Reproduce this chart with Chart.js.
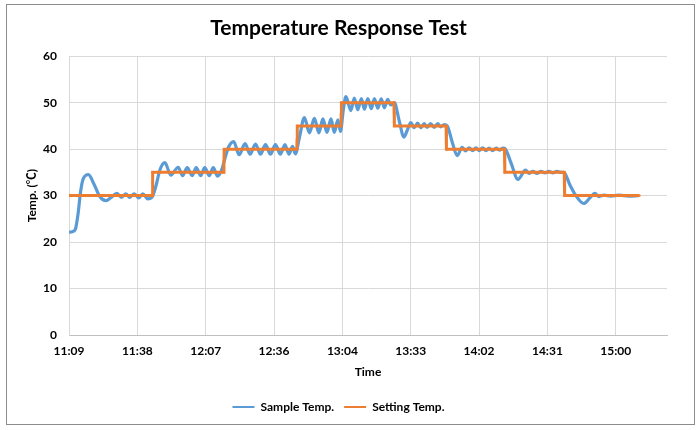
<!DOCTYPE html>
<html>
<head>
<meta charset="utf-8">
<script src="https://cdn.jsdelivr.net/npm/chart.js@4/dist/chart.umd.min.js"></script>
<style>
  html, body { margin: 0; padding: 0; background: #fff; }
  #wrap { width: 700px; height: 430px; }
</style>
</head>
<body>
<div id="wrap"><canvas id="myChart" width="700" height="430"></canvas></div>
<script>
// time in minutes after midnight, temp in degC
let sampleTime = [669.6, 670.9, 672.3, 673.4, 674.4, 675.5, 677.8, 680.1, 682.6, 685.2, 687.3, 689.8, 691.7, 693.6, 695.2, 697.1, 699.0, 700.7, 702.8, 704.5,
    706.2, 707.9, 710.0, 712.5, 715.6, 717.5, 719.4, 721.5, 723.2, 725.1, 726.8, 728.7, 730.4, 732.2, 733.9,
    735.6, 736.9, 739.0, 741.3, 743.8, 745.9, 748.2, 750.3, 752.4, 754.5, 756.6, 758.7, 760.6, 762.3, 763.8, 765.0,
    766.7, 768.8, 770.9, 773.0, 774.9, 776.6, 778.3, 780.0, 781.4, 782.9, 784.0, 785.2,
    786.3, 788.4, 789.8, 791.3, 792.8, 794.1, 795.5, 797.0, 798.3, 799.7, 801.2, 802.5, 803.9, 805.2, 806.7,
    808.8, 810.7, 812.1, 813.6, 815.1, 816.5, 817.8, 819.3, 820.5, 822.0, 823.5, 825.0, 826.2, 827.7,
    829.0, 831.1, 833.2, 835.3, 836.7, 838.2, 839.7, 841.1, 842.4, 843.9, 845.3, 846.6, 848.1, 849.6, 851.0, 852.5, 853.5,
    855.9, 858.8, 862.0, 863.4, 865.1, 866.8, 868.5, 870.2, 871.8, 873.5, 875.2, 876.9, 878.1,
    880.7, 883.2, 886.5, 889.1, 891.2, 892.9, 895.0, 897.9, 901.3, 905.5, 909.7];
let sampleTemp = [22.1, 22.2, 22.8, 26, 30.5, 33.5, 34.5, 32.5, 29.8, 28.9, 29.6, 30.5, 29.6, 30.4, 29.6, 30.4, 29.5, 30.4, 29.3, 29.6,
    32, 35.5, 37.1, 34.4, 36.1, 34.3, 36.0, 34.3, 36.0, 34.3, 36.0, 34.3, 36.0, 34.2, 35.5,
    38.5, 40.5, 41.6, 38.8, 41.2, 38.9, 41.1, 38.9, 41.0, 38.9, 41.0, 38.9, 41.0, 38.9, 40.6, 39.0,
    42.5, 46.8, 43.5, 46.6, 43.5, 46.5, 43.6, 46.5, 43.6, 46.3, 43.8, 48.5,
    51.3, 48.3, 51.0, 48.5, 50.9, 48.6, 50.9, 48.7, 50.9, 48.8, 50.8, 48.9, 50.7, 49.5, 50.0,
    46, 42.6, 44, 45.7, 44.6, 45.6, 44.6, 45.5, 44.7, 45.5, 44.7, 45.5, 44.8, 45.3,
    45, 41.5, 38.6, 40.4, 39.6, 40.3, 39.7, 40.3, 39.7, 40.3, 39.7, 40.2, 39.7, 40.2, 39.8, 40.2, 40.0,
    37, 33.5, 35.5, 34.8, 35.2, 34.8, 35.2, 34.9, 35.2, 34.9, 35.2, 35.0, 35.0,
    32.3, 30, 28.3, 29.5, 30.5, 29.8, 30.1, 29.9, 30.1, 29.9, 30.0];

let setTime = [669.6, 704.7, 704.8, 704.9, 734.8, 734.9, 735.0, 765.6, 765.7, 765.8, 784.2, 784.3, 784.4,
    806.5, 806.6, 806.7, 828.5, 828.6, 828.7, 853.1, 853.2, 853.3, 878.3, 878.4, 878.5, 910.0];
let setTemp = [30, 30, 32.5, 35, 35, 37.5, 40, 40, 42, 45, 45, 47.5, 50,
    50, 48, 45, 45, 43, 40, 40, 37, 35, 35, 32, 30, 30];

let tickLabels = ['11:09', '11:38', '12:07', '12:36', '13:04', '13:33', '14:02', '14:31', '15:00'];
let xMin = 669.6, xMax = 921.6, xStep = 28.8;

const bold = { family: 'Lato, "Noto Sans CJK SC", sans-serif', weight: 'bold' };

const framePlugin = {
    id: 'frame',
    beforeDraw(chart) {
        const c = chart.ctx;
        c.save();
        c.fillStyle = '#fff';
        c.fillRect(0, 0, chart.width, chart.height);
        c.strokeStyle = '#8c8c8c';
        c.lineWidth = 1;
        c.strokeRect(6.5, 4.5, 688, 420);
        c.restore();
    }
};

let context = document.getElementById('myChart').getContext('2d');
let chart = new Chart(context, {
    type: 'line',
    data: {
        datasets: [
            {
                label: 'Sample Temp.',
                data: sampleTime.map((t, i) => ({ x: t, y: sampleTemp[i] })),
                borderColor: '#5b9bd5',
                backgroundColor: '#5b9bd5',
                borderWidth: 3.2,
                pointRadius: 0,
                cubicInterpolationMode: 'monotone',
                order: 1
            },
            {
                label: 'Setting Temp.',
                data: setTime.map((t, i) => ({ x: t, y: setTemp[i] })),
                borderColor: '#ed7d31',
                backgroundColor: '#ed7d31',
                borderWidth: 3,
                pointRadius: 1.2,
                pointBorderWidth: 0,
                tension: 0,
                order: 0
            }
        ]
    },
    options: {
        responsive: false,
        animation: false,
        layout: { padding: { left: 10, right: 33, top: 0, bottom: 7 } },
        plugins: {
            title: {
                display: true,
                text: 'Temperature Response Test',
                color: '#000',
                font: { ...bold, size: 21 },
                padding: { top: 16, bottom: 15 }
            },
            legend: {
                position: 'bottom',
                labels: {
                    color: '#000',
                    font: { ...bold, size: 12 },
                    boxWidth: 22,
                    boxHeight: 2,
                    padding: 10,
                    sort: (a, b) => a.datasetIndex - b.datasetIndex,
                    generateLabels(ch) {
                        return Chart.defaults.plugins.legend.labels.generateLabels(ch).map(l => ({ ...l, lineWidth: 0 }));
                    }
                }
            },
            tooltip: { enabled: false }
        },
        scales: {
            x: {
                type: 'linear',
                min: xMin,
                max: xMax,
                afterBuildTicks(scale) {
                    scale.ticks = tickLabels.map((_, i) => ({ value: xMin + i * xStep }));
                },
                afterFit(scale) { scale.height = 56; },
                ticks: {
                    color: '#000',
                    font: { ...bold, size: 12 },
                    padding: 9,
                    maxRotation: 0,
                    autoSkip: false,
                    callback: (v, i) => tickLabels[i]
                },
                grid: { color: '#d9d9d9', drawTicks: false },
                border: { color: '#bfbfbf' },
                title: {
                    display: true,
                    text: 'Time',
                    color: '#000',
                    font: { ...bold, size: 12 },
                    padding: { top: 0, bottom: 12 }
                }
            },
            y: {
                min: 0,
                max: 60,
                afterFit(scale) { scale.width = 59; },
                ticks: {
                    stepSize: 10,
                    color: '#000',
                    font: { ...bold, size: 12 },
                    padding: 12
                },
                grid: { color: '#d9d9d9', drawTicks: false },
                border: { color: '#d9d9d9' },
                title: {
                    display: true,
                    text: 'Temp. (℃)',
                    color: '#000',
                    font: { ...bold, size: 12 },
                    padding: { top: 15, bottom: 0 }
                }
            }
        }
    },
    plugins: [framePlugin]
});
</script>
</body>
</html>
